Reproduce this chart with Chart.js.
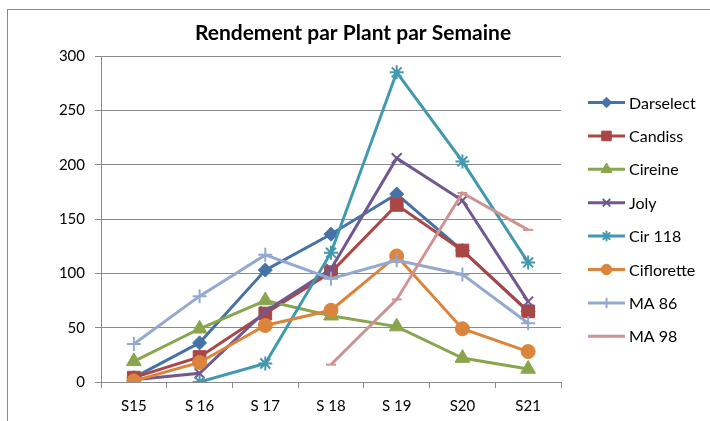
<!DOCTYPE html>
<html><head><meta charset="utf-8">
<script src="https://cdn.jsdelivr.net/npm/chart.js@4/dist/chart.umd.min.js"></script>
<style>html,body{margin:0;padding:0;background:#fff}#wrap{width:710px;height:421px}</style>
</head><body><div id="wrap"><canvas id="c" width="710" height="421"></canvas></div>
<script>
const categories = ['S15','S 16','S 17','S 18','S 19','S20','S21'];
const seriesNames = ['Darselect','Candiss','Cireine','Joly','Cir 118','Ciflorette','MA 86','MA 98'];
const darselect  = [4, 36, 103, 136, 173, 121, 65];
const candiss    = [4, 23, 63, 101, 163, 121, 65];
const cireine    = [19, 49, 75, 61, 51, 22, 12];
const joly       = [2, 8, 65, 104, 206, 167, 74];
const cir118     = [null, 0, 17, 119, 285, 203, 110];
const ciflorette = [1, 18, 52, 66, 116, 49, 28];
const ma86       = [35, 79, 117, 95, 112, 99, 54];
const ma98       = [null, null, null, 16, 76, 174, 140];
const yTicks = [0, 50, 100, 150, 200, 250, 300];
const titleText = 'Rendement par Plant par Semaine';

const FONT = 'Lato, "Liberation Sans", sans-serif';
const colors = ['#4572A7','#AA4643','#89A54E','#71588F','#4198AF','#DB843D','#93A9CF','#D19392'];
const styles = ['rectRot','rect','triangle','crossRot','star','circle','cross','line'];
const radii  = [7,9,8.5,7,7,7,7,5];
const values = [darselect,candiss,cireine,joly,cir118,ciflorette,ma86,ma98];

const datasets = seriesNames.map((n,i)=>({
  label:n, data:values[i], borderColor:colors[i], backgroundColor:colors[i],
  borderWidth:3, pointStyle:styles[i], pointRadius:radii[i],
  pointBackgroundColor:colors[i], pointBorderColor:colors[i],
  pointBorderWidth:(['crossRot','star','cross','line'].includes(styles[i]))?2:1,
  tension:0, spanGaps:false, order:-i
}));

const frame = {
  id:'frame',
  beforeDraw(chart){
    const ctx=chart.ctx; ctx.save();
    ctx.fillStyle='#fff'; ctx.fillRect(0,0,chart.width,chart.height);
    ctx.strokeStyle='#8a8a8a'; ctx.lineWidth=1;
    ctx.strokeRect(7.5,9.5,760,460);
    ctx.fillStyle='#000'; ctx.font='bold 21px '+FONT; ctx.textAlign='center'; ctx.textBaseline='middle';
    ctx.fillText(titleText,353,33);
    ctx.restore();
  }
};

const legendPlugin = {
  id:'sideLegend',
  afterDraw(chart){
    const ctx=chart.ctx; ctx.save();
    chart.data.datasets.forEach((ds,i)=>{
      const y=102.5+i*33.4;
      ctx.strokeStyle=ds.borderColor; ctx.lineWidth=3;
      ctx.beginPath(); ctx.moveTo(588,y); ctx.lineTo(625,y); ctx.stroke();
      ctx.fillStyle=ds.pointBackgroundColor; ctx.strokeStyle=ds.pointBorderColor;
      ctx.lineWidth=ds.pointBorderWidth;
      Chart.helpers.drawPoint(ctx,{pointStyle:ds.pointStyle,radius:ds.pointRadius*0.75,rotation:0,borderWidth:ds.pointBorderWidth},606.5,y);
      ctx.fillStyle='#000'; ctx.font='16px '+FONT; ctx.textBaseline='middle'; ctx.textAlign='left';
      ctx.fillText(ds.label,629,y+1);
    });
    ctx.restore();
  }
};

new Chart(document.getElementById('c'),{
  type:'line',
  data:{labels:categories, datasets},
  plugins:[frame, legendPlugin],
  options:{
    responsive:false, animation:false, devicePixelRatio:1,
    layout:{padding:{left:0,right:149,top:56,bottom:0}},
    plugins:{ legend:{display:false}, tooltip:{enabled:false}, title:{display:false} },
    scales:{
      x:{
        offset:true,
        grid:{offset:true, drawOnChartArea:false, color:'#8a8a8a', tickLength:6, tickColor:'#8a8a8a'},
        border:{color:'#8a8a8a'},
        ticks:{color:'#000', font:{family:FONT,size:15}, padding:9, maxRotation:0},
        afterFit(s){ s.height=39; }
      },
      y:{
        min:0, max:300,
        afterBuildTicks(s){ s.ticks = yTicks.map(v=>({value:v})); },
        grid:{color:'#8a8a8a', tickLength:6, tickColor:'#8a8a8a'},
        border:{color:'#8a8a8a'},
        ticks:{color:'#000', font:{family:FONT,size:15}, padding:10},
        afterFit(s){ s.width=101; }
      }
    }
  }
});
</script></body></html>
